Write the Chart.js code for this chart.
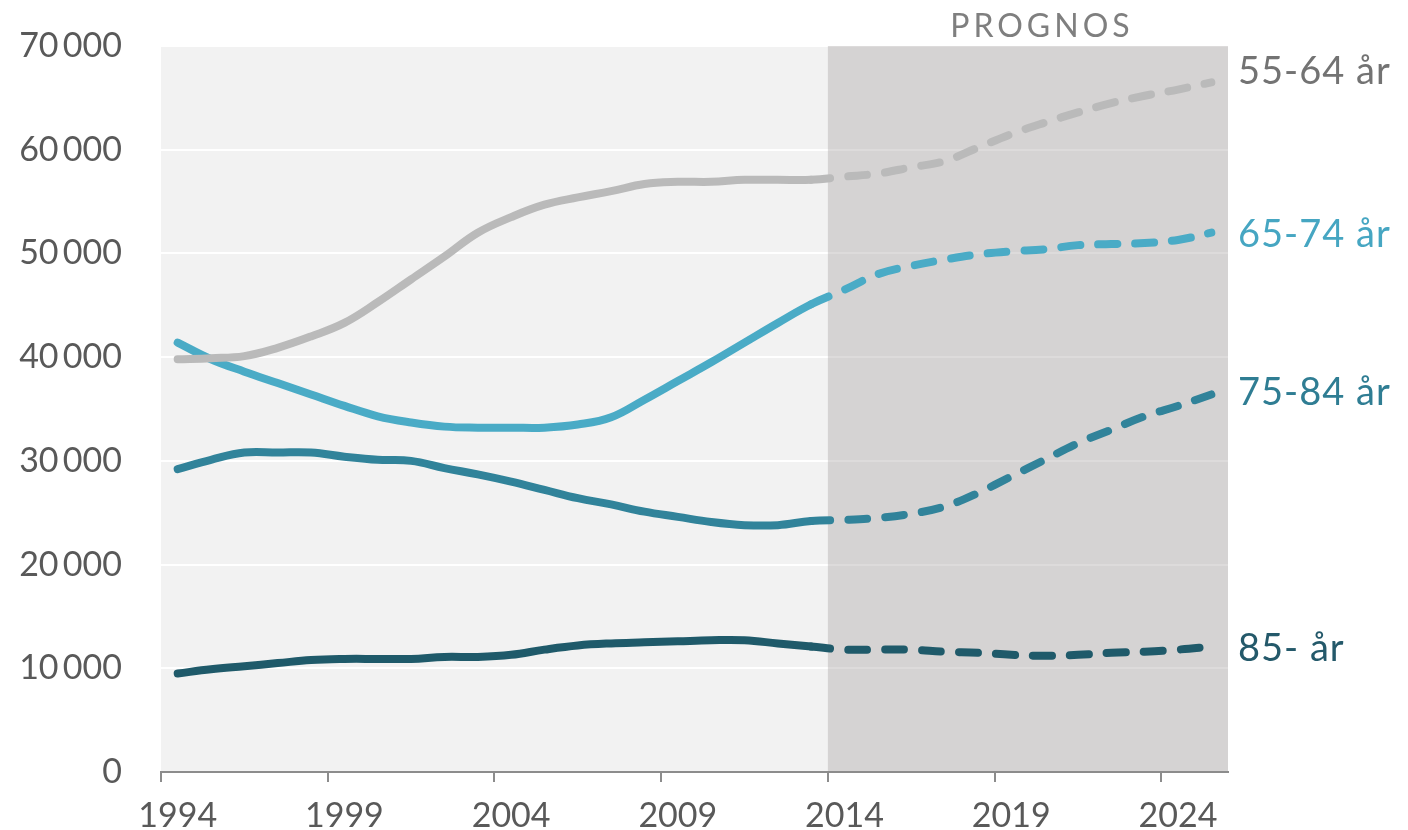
<!DOCTYPE html>
<html>
<head>
<meta charset="utf-8">
<script src="https://cdn.jsdelivr.net/npm/chart.js@4/dist/chart.umd.min.js"></script>
<style>
  html, body { margin: 0; padding: 0; background: #fff; }
  #wrap { width: 1408px; height: 830px; }
</style>
</head>
<body>
<div id="wrap"><canvas id="chart" width="1408" height="830"></canvas></div>
<script>
// år 1994-2025, prognos från 2014
const years = ['1994', '1995', '1996', '1997', '1998', '1999', '2000', '2001', '2002', '2003',
    '2004', '2005', '2006', '2007', '2008', '2009', '2010', '2011', '2012', '2013',
    '2014', '2015', '2016', '2017', '2018', '2019', '2020', '2021', '2022', '2023', '2024', '2025'];
const prognosStart = '2014';

const age55_64 = [39800, 39900, 40100, 40900, 42000, 43300, 45300, 47500, 49700, 52000,
    53500, 54700, 55400, 56000, 56700, 56900, 56900, 57100, 57100, 57100,
    57400, 57700, 58300, 58900, 60200, 61500, 62600, 63600, 64500, 65200, 65800, 66500];
const age65_74 = [41400, 39800, 38600, 37500, 36400, 35300, 34300, 33700, 33300, 33200,
    33200, 33200, 33500, 34200, 35900, 37700, 39500, 41400, 43300, 45100,
    46500, 48000, 48800, 49400, 49900, 50200, 50400, 50800, 50900, 51000, 51300, 52000];
const age75_84 = [29200, 30100, 30800, 30800, 30800, 30400, 30100, 30000, 29300, 28700,
    28000, 27200, 26400, 25800, 25100, 24600, 24100, 23800, 23800, 24200,
    24300, 24500, 24900, 25600, 26900, 28500, 30100, 31700, 33000, 34300, 35300, 36400];
const age85 = [9500, 9900, 10200, 10500, 10800, 10900, 10900, 10900, 11100, 11100,
    11300, 11800, 12200, 12400, 12500, 12600, 12700, 12700, 12400, 12100,
    11800, 11800, 11800, 11600, 11500, 11300, 11200, 11300, 11500, 11600, 11800, 12100];

const seriesNames = ['55-64 år', '65-74 år', '75-84 år', '85- år'];
const xTickYears = ['1994', '1999', '2004', '2009', '2014', '2019', '2024'];
const yTicks = [0, 10000, 20000, 30000, 40000, 50000, 60000, 70000];

const lineColors = ['#bababa', '#4aabc6', '#31839a', '#1f5a6a'];
const labelColors = ['#737373', '#46a6c2', '#2f7d93', '#24596a'];
const labelShift = [-11, 2, -2, 2];

const progIdx = years.indexOf(prognosStart);

function fmt(v) {
    return String(v).replace(/\B(?=(\d{3})+(?!\d))/g, '\u2009');
}

function makeSet(name, data, i) {
    return {
        label: name,
        data: data,
        borderColor: lineColors[i],
        borderWidth: 8,
        borderCapStyle: 'round',
        borderJoinStyle: 'round',
        pointRadius: 0,
        tension: 0.4,
        fill: false,
        segment: {
            borderDash: ctx => ctx.p1DataIndex >= progIdx ? [19, 18] : undefined
        }
    };
}

const background = {
    id: 'background',
    beforeDraw(chart) {
        const { ctx, chartArea: a } = chart;
        ctx.save();
        ctx.fillStyle = '#f2f2f2';
        ctx.fillRect(a.left, a.top, a.right - a.left, a.bottom - a.top);
        ctx.restore();
    },
    beforeDatasetsDraw(chart) {
        const { ctx, chartArea: a, scales: { x } } = chart;
        const left = (x.getPixelForValue(progIdx - 1) + x.getPixelForValue(progIdx)) / 2;
        ctx.save();
        ctx.fillStyle = 'rgba(160, 155, 155, 0.36)';
        ctx.fillRect(left, a.top, a.right - left, a.bottom - a.top - 1);
        ctx.fillStyle = '#7f7f7f';
        ctx.font = '32px Lato';
        ctx.letterSpacing = '4px';
        ctx.textAlign = 'center';
        ctx.textBaseline = 'alphabetic';
        ctx.fillText('PROGNOS', (left + a.right) / 2 + 14, 37);
        ctx.restore();
    }
};

const endLabels = {
    id: 'endLabels',
    afterDatasetsDraw(chart) {
        const { ctx, chartArea: a, scales: { y } } = chart;
        ctx.save();
        ctx.font = '38px Lato';
        ctx.letterSpacing = '1px';
        ctx.textAlign = 'left';
        ctx.textBaseline = 'middle';
        chart.data.datasets.forEach((ds, i) => {
            const last = ds.data[ds.data.length - 1];
            ctx.fillStyle = labelColors[i];
            ctx.fillText(ds.label, a.right + 10, y.getPixelForValue(last) + labelShift[i]);
        });
        ctx.restore();
    }
};

Chart.defaults.font.family = 'Lato';

new Chart(document.getElementById('chart'), {
    type: 'line',
    data: {
        labels: years,
        datasets: [
            makeSet(seriesNames[0], age55_64, 0),
            makeSet(seriesNames[1], age65_74, 1),
            makeSet(seriesNames[2], age75_84, 2),
            makeSet(seriesNames[3], age85, 3)
        ]
    },
    options: {
        responsive: false,
        animation: false,
        devicePixelRatio: 1,
        layout: { padding: { top: 46, right: 180, left: 0, bottom: 0 } },
        plugins: {
            legend: { display: false },
            tooltip: { enabled: false }
        },
        scales: {
            x: {
                offset: true,
                afterFit: s => { s.height = 58; s.paddingLeft = 0; s.paddingRight = 0; },
                border: { display: true, color: '#8c8c8c', width: 2 },
                grid: {
                    offset: true,
                    drawOnChartArea: false,
                    drawTicks: true,
                    tickLength: 10,
                    lineWidth: 2,
                    color: c => (c.tick && xTickYears.includes(c.tick.label)) ? '#8c8c8c' : 'rgba(0,0,0,0)'
                },
                ticks: {
                    autoSkip: false,
                    maxRotation: 0,
                    padding: 14,
                    color: '#595959',
                    font: { size: 34 },
                    callback: (v, i) => xTickYears.includes(years[i]) ? years[i] : ''
                }
            },
            y: {
                min: 0,
                max: 70000,
                afterFit: s => { s.width = 161; s.paddingTop = 0; s.paddingBottom = 0; },
                afterBuildTicks: s => { s.ticks = yTicks.map(v => ({ value: v })); },
                border: { display: false },
                grid: {
                    color: '#ffffff',
                    lineWidth: 2,
                    drawTicks: false
                },
                ticks: {
                    padding: 39,
                    color: '#595959',
                    font: { size: 34 },
                    callback: v => fmt(v)
                }
            }
        }
    },
    plugins: [background, endLabels]
});
</script>
</body>
</html>
